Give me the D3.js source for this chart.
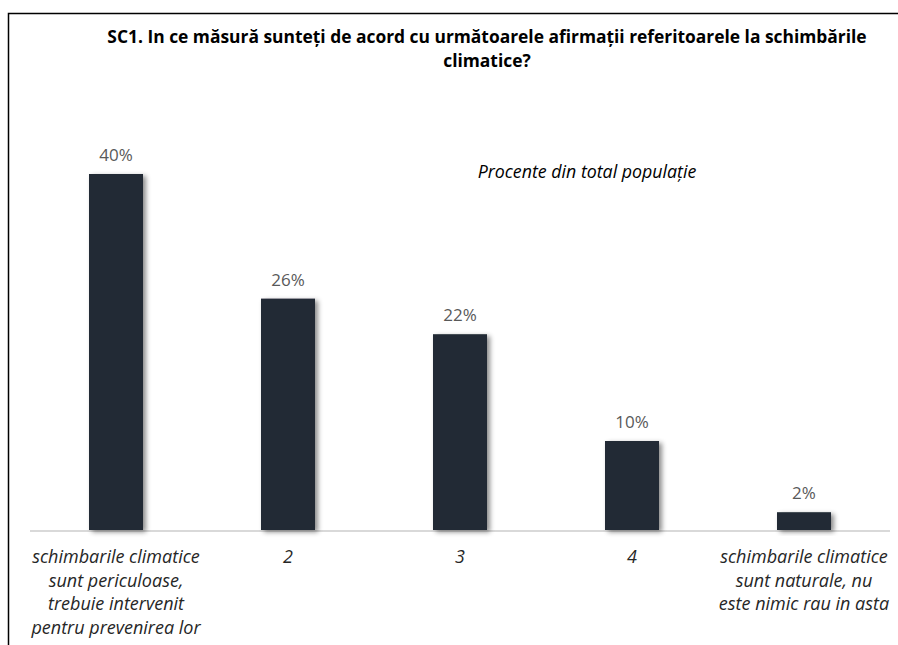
<!DOCTYPE html>
<html><head><meta charset="utf-8">
<script src="https://cdn.jsdelivr.net/npm/d3@7"></script>
<style>body{margin:0;background:#fff}svg{display:block}</style>
</head><body>
<script>
const categories = [
  ["schimbarile climatice","sunt periculoase,","trebuie intervenit","pentru prevenirea lor"],
  ["2"],["3"],["4"],
  ["schimbarile climatice","sunt naturale, nu","este nimic rau in asta"]
];
const values = [40, 26, 22, 10, 2];
const valueLabels = ["40%","26%","22%","10%","2%"];
const titleLines = ["SC1. In ce măsură sunteți de acord cu următoarele afirmații referitoarele la schimbările","climatice?"];
const subtitle = "Procente din total populație";

const W = 898, H = 645;
const svg = d3.select("body").append("svg").attr("width", W).attr("height", H);
const defs = svg.append("defs");
const f = defs.append("filter").attr("id","sh").attr("x","-20%").attr("y","-20%").attr("width","150%").attr("height","150%");
f.append("feDropShadow").attr("dx",3).attr("dy",2).attr("stdDeviation",2.5).attr("flood-color","#000").attr("flood-opacity",0.45);

svg.append("path").attr("d","M8.5,645 V13.5 H898").attr("fill","none").attr("stroke","#000").attr("stroke-width",1.5);

const font = "'Open Sans', sans-serif";
const x = d3.scaleBand().domain(d3.range(values.length)).range([30, 890]).paddingInner(0.686).paddingOuter(0.343);
const y = d3.scaleLinear().domain([0, 40]).range([530, 174]);

svg.append("line").attr("x1",30).attr("x2",890).attr("y1",y(0)+1).attr("y2",y(0)+1)
  .attr("stroke","#d9d9d9").attr("stroke-width",2);

svg.selectAll("rect.bar").data(values).join("rect").attr("class","bar")
  .attr("x",(d,i)=>x(i)).attr("width",x.bandwidth())
  .attr("y",d=>y(d)).attr("height",d=>y(0)-y(d))
  .attr("fill","#222a35").attr("filter","url(#sh)");

svg.selectAll("text.val").data(values).join("text").attr("class","val")
  .attr("x",(d,i)=>x(i)+x.bandwidth()/2).attr("y",d=>y(d)-13)
  .attr("text-anchor","middle").attr("font-family",font).attr("font-size",17)
  .attr("fill","#595959").text((d,i)=>valueLabels[i]);

const cat = svg.selectAll("text.cat").data(categories).join("text").attr("class","cat")
  .attr("text-anchor","middle").attr("font-family",font).attr("font-style","italic")
  .attr("font-size",18).attr("fill","#262626");
cat.each(function(lines,i){
  d3.select(this).selectAll("tspan").data(lines).join("tspan")
    .attr("x",x(i)+x.bandwidth()/2).attr("y",(l,j)=>563+j*23.5).text(l=>l);
});

svg.selectAll("text.title").data(titleLines).join("text").attr("class","title")
  .attr("x",487).attr("y",(d,i)=>43+i*24).attr("text-anchor","middle")
  .attr("font-family",font).attr("font-weight","bold").attr("font-size",17.4)
  .attr("fill","#000").text(d=>d);

svg.append("text").attr("x",587).attr("y",178).attr("text-anchor","middle")
  .attr("font-family",font).attr("font-style","italic").attr("font-size",17.8)
  .attr("fill","#000").text(subtitle);
</script>
</body></html>
